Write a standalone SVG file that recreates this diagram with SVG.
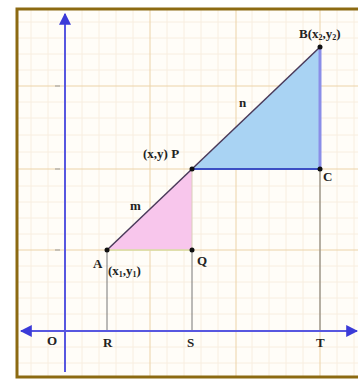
<svg xmlns="http://www.w3.org/2000/svg" width="358" height="379" viewBox="0 0 358 379">
<defs>
<style>
.minor{stroke:#f8eee0;stroke-width:1}
.major{stroke:#ecd3a8;stroke-width:1}
.axis{stroke:#5757e0;stroke-width:2}
.thin{stroke:#777;stroke-width:1}
.lbl{font-family:"Liberation Serif",serif;font-weight:bold;font-size:13px;fill:#222}
.sub{font-size:8px}
.dot{fill:#111}
</style>
<marker id="arr" viewBox="0 0 10 10" refX="9" refY="5" markerWidth="6" markerHeight="6" orient="auto-start-reverse">
<path d="M0,0 L10,5 L0,10 z" fill="#3b3bd8"/>
</marker>
</defs>
<rect x="0" y="0" width="358" height="379" fill="#fff"/>
<rect x="17" y="9" width="345" height="368" fill="#fffdf8"/>
<g id="grid">
<path class="minor" d="M31,9V377M48,9V377M82,9V377M99,9V377M116,9V377M133,9V377M167,9V377M184,9V377M201,9V377M218,9V377M252,9V377M269,9V377M286,9V377M303,9V377M337,9V377M354,9V377"/>
<path class="minor" d="M17,22H358M17,38H358M17,54H358M17,70H358M17,102H358M17,118H358M17,135H358M17,152H358M17,186H358M17,202H358M17,218H358M17,234H358M17,266H358M17,282H358M17,298H358M17,314H358M17,347H358M17,363H358"/>
<path class="major" d="M150,9V377M236,9V377M320,9V377M17,86H358M17,169H358M17,250H358"/>
<path stroke="#999" stroke-width="1" d="M55,86H60M55,169H60M55,250H60"/>
</g>
<g id="shapes">
<polygon points="192,169 320,47 320,169" fill="#a9d3f3"/>
<polygon points="107,250 192,169 192,250" fill="#f8c6ec"/>
</g>
<g id="connectors">
<line class="thin" x1="107" y1="250" x2="107" y2="331"/>
<line class="thin" x1="192" y1="250" x2="192" y2="331"/>
<line class="thin" x1="320" y1="169" x2="320" y2="331"/>
<line x1="107" y1="250" x2="192" y2="250" stroke="#d8dca0" stroke-width="1.5"/>
<line x1="192" y1="169" x2="192" y2="250" stroke="#d8d0b8" stroke-width="1"/>
<line x1="320" y1="47" x2="320" y2="169" stroke="#8a8ee8" stroke-width="3"/>
<line x1="192" y1="169" x2="320" y2="169" stroke="#3c4fc4" stroke-width="2"/>
<line x1="107" y1="250" x2="320" y2="47" stroke="#4a3a5a" stroke-width="1.5"/>
<line class="axis" x1="65" y1="372" x2="65" y2="14" marker-end="url(#arr)"/>
<line class="axis" x1="21" y1="331" x2="357" y2="331" marker-start="url(#arr)" marker-end="url(#arr)"/>
</g>
<g id="A"><circle class="dot" cx="107" cy="250" r="2.5"/><text class="lbl" x="93" y="268">A</text><text class="lbl" x="108" y="275" font-size="10">(x<tspan class="sub" dy="2">1</tspan><tspan dy="-2">,y</tspan><tspan class="sub" dy="2">1</tspan><tspan dy="-2">)</tspan></text></g>
<g id="Q"><circle class="dot" cx="192" cy="250" r="2.5"/><text class="lbl" x="197" y="265">Q</text></g>
<g id="P"><circle class="dot" cx="192" cy="169" r="2.5"/><text class="lbl" x="143" y="158" font-size="12">(x,y) P</text></g>
<g id="C"><circle class="dot" cx="320" cy="169" r="2.5"/><text class="lbl" x="323" y="181">C</text></g>
<g id="B"><circle class="dot" cx="320" cy="47" r="2.5"/><text class="lbl" x="299" y="38" font-size="12">B(x<tspan class="sub" dy="2">2</tspan><tspan dy="-2">,y</tspan><tspan class="sub" dy="2">2</tspan><tspan dy="-2">)</tspan></text></g>
<g id="labels">
<text class="lbl" x="239" y="107">n</text>
<text class="lbl" x="130" y="210">m</text>
<text class="lbl" x="47" y="345">O</text>
<text class="lbl" x="103" y="347">R</text>
<text class="lbl" x="187" y="347">S</text>
<text class="lbl" x="316" y="347">T</text>
</g>
<rect x="17" y="9" width="345" height="368" fill="none" stroke="#8c6a12" stroke-width="3"/>
</svg>
